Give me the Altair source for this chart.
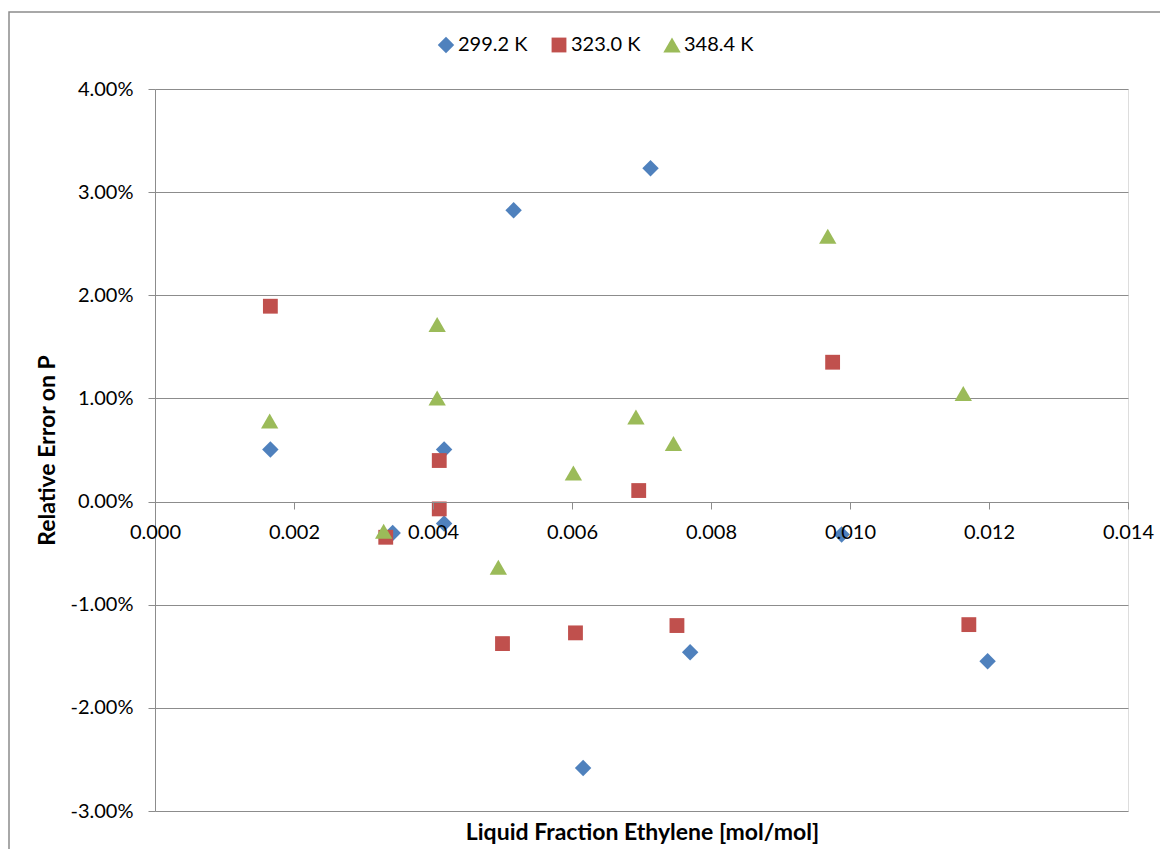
import altair as alt
import pandas as pd

series_names = ["299.2 K", "323.0 K", "348.4 K"]
series_colors = ["#4F81BD", "#C0504D", "#9BBB59"]
series_shapes = ["diamond", "square", "triangle-up"]
series_sizes = [270, 220, 300]

x_299 = [0.00166, 0.00342, 0.00416, 0.00416, 0.00516, 0.00713, 0.00616, 0.00770, 0.00988, 0.01198]
y_299 = [0.00504, -0.00304, 0.00504, -0.00213, 0.02824, 0.03232, -0.02583, -0.01461, -0.00320, -0.01548]

x_323 = [0.00166, 0.00332, 0.00409, 0.00409, 0.00500, 0.00605, 0.00696, 0.00751, 0.00975, 0.01171]
y_323 = [0.01894, -0.00346, 0.00398, -0.00071, -0.01377, -0.01273, 0.00107, -0.01202, 0.01351, -0.01193]

x_348 = [0.00165, 0.00329, 0.00406, 0.00406, 0.00494, 0.00602, 0.00692, 0.00746, 0.00968, 0.01163]
y_348 = [0.00780, -0.00288, 0.01716, 0.01005, -0.00637, 0.00278, 0.00820, 0.00562, 0.02572, 0.01047]

x_ticks = [0.000, 0.002, 0.004, 0.006, 0.008, 0.010, 0.012, 0.014]
y_ticks = [-0.03, -0.02, -0.01, 0.0, 0.01, 0.02, 0.03, 0.04]

rows = []
for name, xs, ys in zip(series_names, [x_299, x_323, x_348], [y_299, y_323, y_348]):
    for xv, yv in zip(xs, ys):
        rows.append({"series": name, "x": xv, "y": yv})
df = pd.DataFrame(rows)

W, H = 973, 722
FONT = "Lato"
GRAY = "#8c8c8c"

points = alt.Chart(df).mark_point(filled=True, opacity=1, strokeWidth=0).encode(
    x=alt.X("x:Q",
            scale=alt.Scale(domain=[0, 0.014], nice=False, zero=False),
            axis=alt.Axis(values=x_ticks, format=".3f", offset=-309, tickSize=7,
                          labelPadding=13, labelFlush=False, labelOverlap=False,
                          grid=False, domainColor=GRAY, tickColor=GRAY,
                          labelFont=FONT, labelFontSize=20, labelColor="#000000",
                          title="Liquid Fraction Ethylene [mol/mol]",
                          titleFont=FONT, titleFontSize=23, titleFontWeight="bold",
                          titleColor="#000000", titleX=487, titleY=330,
                          titleAlign="center", titleBaseline="middle", zindex=1)),
    y=alt.Y("y:Q",
            scale=alt.Scale(domain=[-0.03, 0.04], nice=False, zero=False),
            axis=alt.Axis(values=y_ticks, tickSize=7, labelPadding=15,
                          labelExpr="datum.value < 0 ? '-' + format(-datum.value, '.2%') : format(datum.value, '.2%')",
                          labelFlush=False, labelOverlap=False,
                          grid=True, gridColor=GRAY, domainColor=GRAY, tickColor=GRAY,
                          labelFont=FONT, labelFontSize=20, labelColor="#000000",
                          title="Relative Error on P",
                          titleFont=FONT, titleFontSize=23, titleFontWeight="bold",
                          titleColor="#000000", titleX=-108, titleY=361,
                          titleAngle=-90, titleAlign="center", titleBaseline="middle")),
    color=alt.Color("series:N", scale=alt.Scale(domain=series_names, range=series_colors),
                    legend=alt.Legend(title=None, orient="none", legendX=281, legendY=-54,
                                      direction="horizontal", columns=3, columnPadding=21,
                                      labelOffset=2, labelFont=FONT, labelFontSize=20,
                                      labelColor="#000000", padding=0)),
    shape=alt.Shape("series:N", scale=alt.Scale(domain=series_names, range=series_shapes)),
    size=alt.Size("series:N", scale=alt.Scale(type="ordinal", domain=series_names, range=series_sizes)),
)

border = alt.Chart(alt.Data(values=[{}])).mark_rect(
    fill=None, stroke=GRAY, strokeWidth=1.5, clip=False
).encode(
    x=alt.value(-146), x2=alt.value(1040),
    y=alt.value(-77), y2=alt.value(790),
)

chart = alt.layer(border, points).properties(
    width=W, height=H,
    autosize=alt.AutoSizeParams(type="none"),
    padding={"left": 147, "top": 81, "right": 32, "bottom": 38},
).configure_view(stroke=None).configure(background="white")

chart.save("out.html", embed_options={"renderer": "svg", "actions": False})
